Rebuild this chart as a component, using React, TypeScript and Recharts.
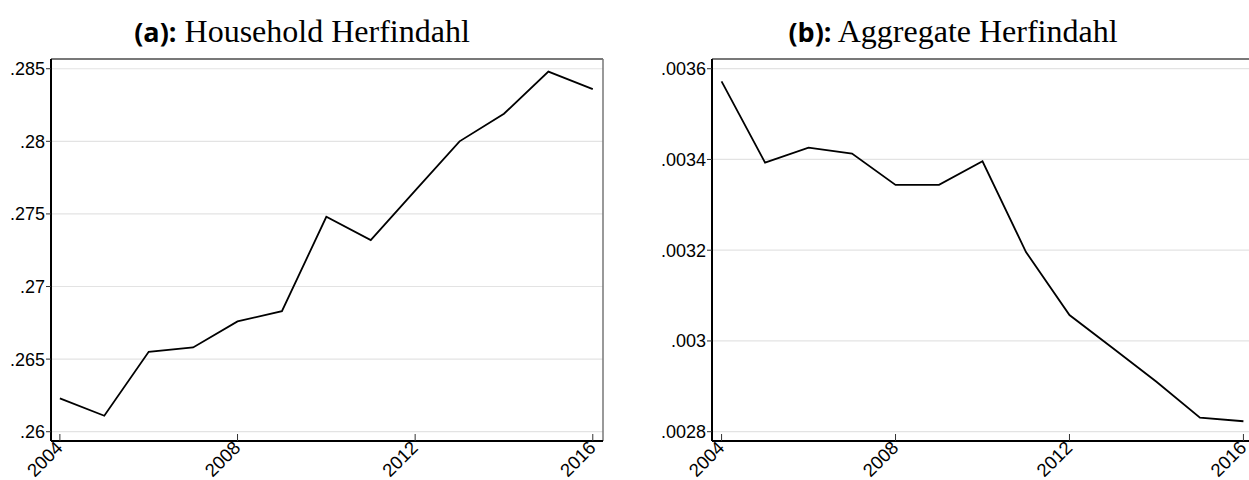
import React from "react";
import { LineChart, Line, XAxis, YAxis, CartesianGrid, ReferenceLine } from "recharts";

const years = [2004, 2005, 2006, 2007, 2008, 2009, 2010, 2011, 2012, 2013, 2014, 2015, 2016];
const household = [0.2623, 0.2611, 0.2655, 0.2658, 0.2676, 0.2683, 0.2748, 0.2732, 0.2766, 0.28, 0.2819, 0.2848, 0.2836];
const aggregate = [0.003572, 0.003393, 0.003426, 0.003413, 0.003344, 0.003344, 0.003396, 0.003196, 0.003057, 0.002984, 0.00291, 0.002831, 0.002823];

const xTicks = [2004, 2008, 2012, 2016];
const yTicksA = [0.26, 0.265, 0.27, 0.275, 0.28, 0.285];
const yLabelsA = [".26", ".265", ".27", ".275", ".28", ".285"];
const yTicksB = [0.0028, 0.003, 0.0032, 0.0034, 0.0036];
const yLabelsB = [".0028", ".003", ".0032", ".0034", ".0036"];

const dataA = years.map((year, i) => ({ year, value: household[i] }));
const dataB = years.map((year, i) => ({ year, value: aggregate[i] }));

const tickFont = "'Liberation Sans', Arial, sans-serif";

const XTick = (props: any) => {
  const { x, y, payload } = props;
  const tx = x + 4;
  const ty = y + 8;
  return (
    <g>
      <line x1={x} x2={x} y1={y - 7} y2={y} stroke="#333" strokeWidth={1} />
      <text
        x={tx}
        y={ty}
        transform={`rotate(-45 ${tx} ${ty})`}
        textAnchor="end"
        fontSize={18.5}
        fontFamily={tickFont}
        fill="#000"
      >
        {payload.value}
      </text>
    </g>
  );
};

interface PanelProps {
  data: { year: number; value: number }[];
  width: number;
  yWidth: number;
  marginRight: number;
  xDomain: [number, number];
  yDomain: [number, number];
  yTicks: number[];
  yLabels: string[];
}

function Panel({ data, width, yWidth, marginRight, xDomain, yDomain, yTicks, yLabels }: PanelProps) {
  return (
    <LineChart width={width} height={480} data={data} margin={{ top: 59, right: marginRight, left: 0, bottom: 9 }}>
      <CartesianGrid vertical={false} stroke="#e3e3e3" strokeWidth={1.2} />
      <XAxis
        dataKey="year"
        type="number"
        domain={xDomain}
        allowDataOverflow
        ticks={xTicks}
        interval={0}
        height={30}
        tickSize={0}
        tickMargin={0}
        tickLine={false}
        axisLine={{ stroke: "#000", strokeWidth: 2 }}
        tick={<XTick />}
      />
      <YAxis
        type="number"
        domain={yDomain}
        allowDataOverflow
        ticks={yTicks}
        interval={0}
        width={yWidth}
        tickSize={5}
        tickMargin={1}
        tickLine={{ stroke: "#333" }}
        axisLine={{ stroke: "#000", strokeWidth: 2 }}
        tickFormatter={(v: number) => yLabels[yTicks.indexOf(v)] ?? String(v)}
        tick={{ fontSize: 18, fontFamily: tickFont, fill: "#000" }}
      />
      <ReferenceLine y={yDomain[1]} stroke="#000" strokeWidth={1.2} />
      <ReferenceLine x={xDomain[1]} stroke="#777" strokeWidth={1.5} />
      <Line
        type="linear"
        dataKey="value"
        stroke="#000"
        strokeWidth={1.8}
        dot={false}
        isAnimationActive={false}
      />
    </LineChart>
  );
}

const titleStyle: React.CSSProperties = {
  position: "absolute",
  top: 12,
  width: 600,
  textAlign: "center",
  fontFamily: "'Liberation Serif', 'Times New Roman', serif",
  fontSize: 32,
  lineHeight: "38px",
  color: "#000",
  whiteSpace: "nowrap",
};

const labelStyle: React.CSSProperties = {
  fontFamily: "'Open Sans', 'Noto Sans', sans-serif",
  fontWeight: 700,
  fontSize: 27,
};

export default function App() {
  return (
    <div style={{ position: "absolute", left: 0, top: 0, width: 1249, height: 480, overflow: "hidden", background: "#fff" }}>
      <div style={{ ...titleStyle, left: 302 - 300 }}>
        <span style={labelStyle}>(a):</span> Household Herfindahl
      </div>
      <div style={{ ...titleStyle, left: 953 - 300 }}>
        <span style={labelStyle}>(b):</span> Aggregate Herfindahl
      </div>
      <div style={{ position: "absolute", left: 0, top: 0 }}>
        <Panel
          data={dataA}
          width={620}
          yWidth={51}
          marginRight={17}
          xDomain={[2003.8, 2016.23]}
          yDomain={[0.25936, 0.28567]}
          yTicks={yTicksA}
          yLabels={yLabelsA}
        />
      </div>
      <div style={{ position: "absolute", left: 620, top: 0 }}>
        <Panel
          data={dataB}
          width={640}
          yWidth={92}
          marginRight={7}
          xDomain={[2003.78, 2016.22]}
          yDomain={[0.0027795, 0.0036214]}
          yTicks={yTicksB}
          yLabels={yLabelsB}
        />
      </div>
    </div>
  );
}
